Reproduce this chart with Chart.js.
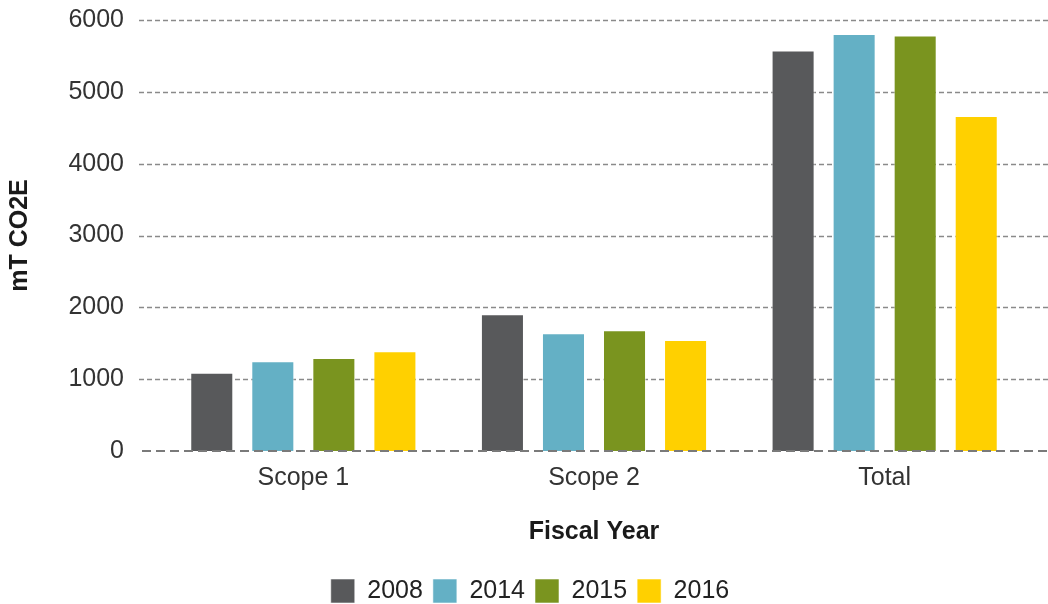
<!DOCTYPE html>
<html lang="en">
<head>
  <meta charset="UTF-8">
  <title>Emissions by Fiscal Year</title>
  <script src="https://cdn.jsdelivr.net/npm/chart.js"></script>
  <style>
    html, body { margin: 0; padding: 0; background: #fff; }
    #chartBox { width: 1048px; height: 604px; }
  </style>
</head>
<body>
  <div id="chartBox">
    <canvas id="emissions_chart" width="1048" height="604"></canvas>
  </div>

  <script>
    // Data
    const categories = ['Scope 1', 'Scope 2', 'Total'];
    const years = ['2008', '2014', '2015', '2016'];
    const values2008 = [1090, 1905, 5575];
    const values2014 = [1250, 1640, 5805];
    const values2015 = [1295, 1680, 5785];
    const values2016 = [1390, 1545, 4665];
    const yTickMin = 0;
    const yTickMax = 6000;
    const yTickStep = 1000;

    const seriesValues = [values2008, values2014, values2015, values2016];
    const seriesColors = ['#58595b', '#64b0c5', '#7a941f', '#ffd000'];

    const FONT = '"Liberation Sans", Arial, sans-serif';

    // dashed grid lines, a bit wider than the plot area like the original
    const dashedGrid = {
      id: 'dashedGrid',
      beforeDatasetsDraw(chart) {
        const y = chart.scales.y;
        const ctx = chart.ctx;
        ctx.save();
        ctx.strokeStyle = '#8a8a8a';
        ctx.lineWidth = 1.5;
        ctx.setLineDash([5, 3]);
        y.ticks.forEach(t => {
          if (t.value === 0) return;
          const py = Math.round(y.getPixelForValue(t.value)) + 0.5;
          ctx.beginPath();
          ctx.moveTo(139, py);
          ctx.lineTo(chart.width, py);
          ctx.stroke();
        });
        ctx.restore();
      },
      afterDatasetsDraw(chart) {
        const y = chart.scales.y;
        const ctx = chart.ctx;
        const py = Math.round(y.getPixelForValue(0));
        ctx.save();
        ctx.strokeStyle = '#7a7a7a';
        ctx.lineWidth = 2;
        ctx.setLineDash([9, 5]);
        ctx.beginPath();
        ctx.moveTo(142, py);
        ctx.lineTo(chart.width, py);
        ctx.stroke();
        ctx.restore();
      }
    };

    // nudge the legend down and right a little
    const legendShift = {
      id: 'legendShift',
      afterLayout(chart) {
        chart.legend.top += 9.5;
        chart.legend.bottom += 9.5;
        chart.legend.left += 15;
        chart.legend.right += 15;
      }
    };

    new Chart(document.getElementById('emissions_chart'), {
      type: 'bar',
      data: {
        labels: categories,
        datasets: years.map((yr, i) => ({
          label: yr,
          data: seriesValues[i],
          backgroundColor: seriesColors[i],
          borderColor: 'rgba(255,255,255,0.55)',
          borderWidth: 1,
          categoryPercentage: 0.84,
          barPercentage: 0.705
        }))
      },
      options: {
        responsive: false,
        animation: false,
        devicePixelRatio: 1,
        layout: { padding: { top: 20, right: 18, left: 0, bottom: 0 } },
        scales: {
          y: {
            min: yTickMin,
            max: yTickMax,
            ticks: {
              stepSize: yTickStep,
              padding: 26,
              color: '#333',
              font: { family: FONT, size: 25 },
              callback: v => String(v)
            },
            grid: { display: false },
            border: { display: false },
            title: {
              display: true,
              text: 'mT CO2E',
              color: '#1a1a1a',
              font: { family: FONT, size: 25, weight: 'bold' },
              padding: { top: 5, bottom: 0 }
            },
            afterFit: s => {
              s.width = 158;
              s.paddingTop = 15;
              s.paddingBottom = 15;
            }
          },
          x: {
            ticks: { padding: 4, color: '#333', font: { family: FONT, size: 25 } },
            grid: { display: false },
            border: { display: false },
            title: {
              display: true,
              text: 'Fiscal Year',
              color: '#1a1a1a',
              font: { family: FONT, size: 25, weight: 'bold' },
              padding: { top: 20, bottom: 12 }
            }
          }
        },
        plugins: {
          legend: {
            position: 'bottom',
            labels: {
              boxWidth: 24,
              boxHeight: 24,
              padding: 10,
              color: '#222',
              font: { family: FONT, size: 25 }
            }
          },
          tooltip: { enabled: false }
        }
      },
      plugins: [dashedGrid, legendShift]
    });
  </script>
</body>
</html>
